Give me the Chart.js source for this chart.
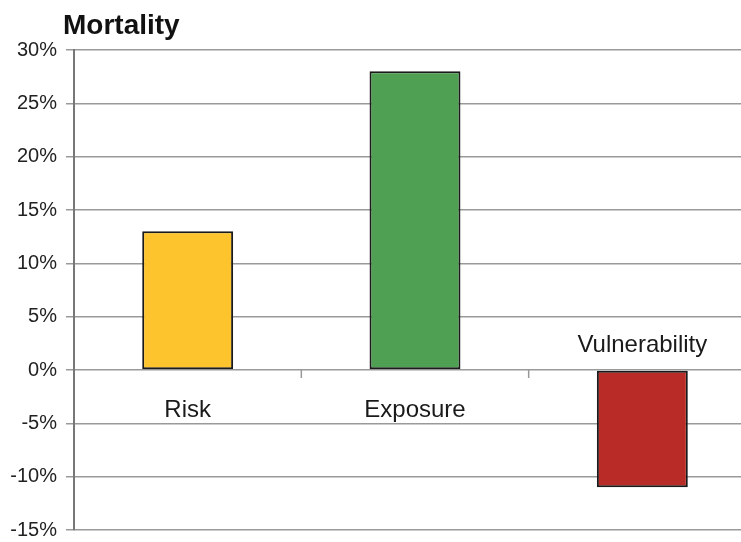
<!DOCTYPE html>
<html lang="en">
<head>
  <meta charset="UTF-8">
  <title>Mortality</title>
  <script src="https://cdn.jsdelivr.net/npm/chart.js"></script>
  <style>
    html, body {
      margin: 0;
      padding: 0;
      background: #fff;
      overflow: hidden;
    }
    .chart-box {
      position: relative;
      width: 756px;
      height: 542px;
    }
  </style>
</head>
<body>

<div class="chart-box">
  <canvas id="chart1"></canvas>
</div>

<script>
  const categories = ["Risk", "Exposure", "Vulnerability"];
  const values = [13, 28, -11];
  const barColors = ["#fdc42e", "#50a054", "#b82b26"];
  const yTicks = [-15, -10, -5, 0, 5, 10, 15, 20, 25, 30];
  const titleText = "Mortality";

  const sans = "'Liberation Sans', Arial, sans-serif";

  // titel + label kategori + tick di garis nol
  const extras = {
    id: "extras",
    afterDraw(chart) {
      const ctx = chart.ctx;
      const x = chart.scales.x;
      const y = chart.scales.y;
      const y0 = y.getPixelForValue(0);
      ctx.save();

      ctx.fillStyle = "#111";
      ctx.font = "bold 28px " + sans;
      ctx.textAlign = "left";
      ctx.textBaseline = "alphabetic";
      ctx.fillText(titleText, 63, 34);

      ctx.strokeStyle = "#999";
      ctx.lineWidth = 1.5;
      for (let i = 1; i < categories.length; i++) {
        const bx = (x.getPixelForValue(i - 1) + x.getPixelForValue(i)) / 2;
        ctx.beginPath();
        ctx.moveTo(bx, y0);
        ctx.lineTo(bx, y0 + 8);
        ctx.stroke();
      }

      ctx.fillStyle = "#1a1a1a";
      ctx.font = "24px " + sans;
      ctx.textAlign = "center";
      ctx.textBaseline = "alphabetic";
      categories.forEach((c, i) => {
        const cx = x.getPixelForValue(i);
        if (values[i] >= 0) {
          ctx.fillText(c, cx, y0 + 47);
        } else {
          ctx.fillText(c, cx, y0 - 18);
        }
      });
      ctx.restore();
    }
  };

  new Chart(document.getElementById("chart1"), {
    type: "bar",
    data: {
      labels: categories,
      datasets: [{
        data: values,
        backgroundColor: barColors,
        borderColor: "#1a1a1a",
        borderWidth: 2,
        borderSkipped: false,
        categoryPercentage: 1,
        barPercentage: 0.4
      }]
    },
    options: {
      responsive: true,
      maintainAspectRatio: false,
      animation: false,
      layout: { padding: { top: 50, right: 0, bottom: 12, left: 0 } },
      plugins: {
        legend: { display: false },
        tooltip: { enabled: false }
      },
      scales: {
        x: {
          display: false
        },
        y: {
          min: -15,
          max: 30,
          afterBuildTicks: scale => {
            scale.ticks = yTicks.map(v => ({ value: v }));
          },
          afterFit: scale => {
            scale.width = 74;
            scale.paddingTop = 0;
            scale.paddingBottom = 0;
          },
          border: { color: "#777", width: 2 },
          grid: { color: "#9a9a9a", lineWidth: 1.5, tickLength: 8 },
          ticks: {
            color: "#222",
            font: { size: 20, family: sans },
            padding: 9,
            callback: v => v + "%"
          }
        }
      }
    },
    plugins: [extras]
  });
</script>

</body>
</html>
